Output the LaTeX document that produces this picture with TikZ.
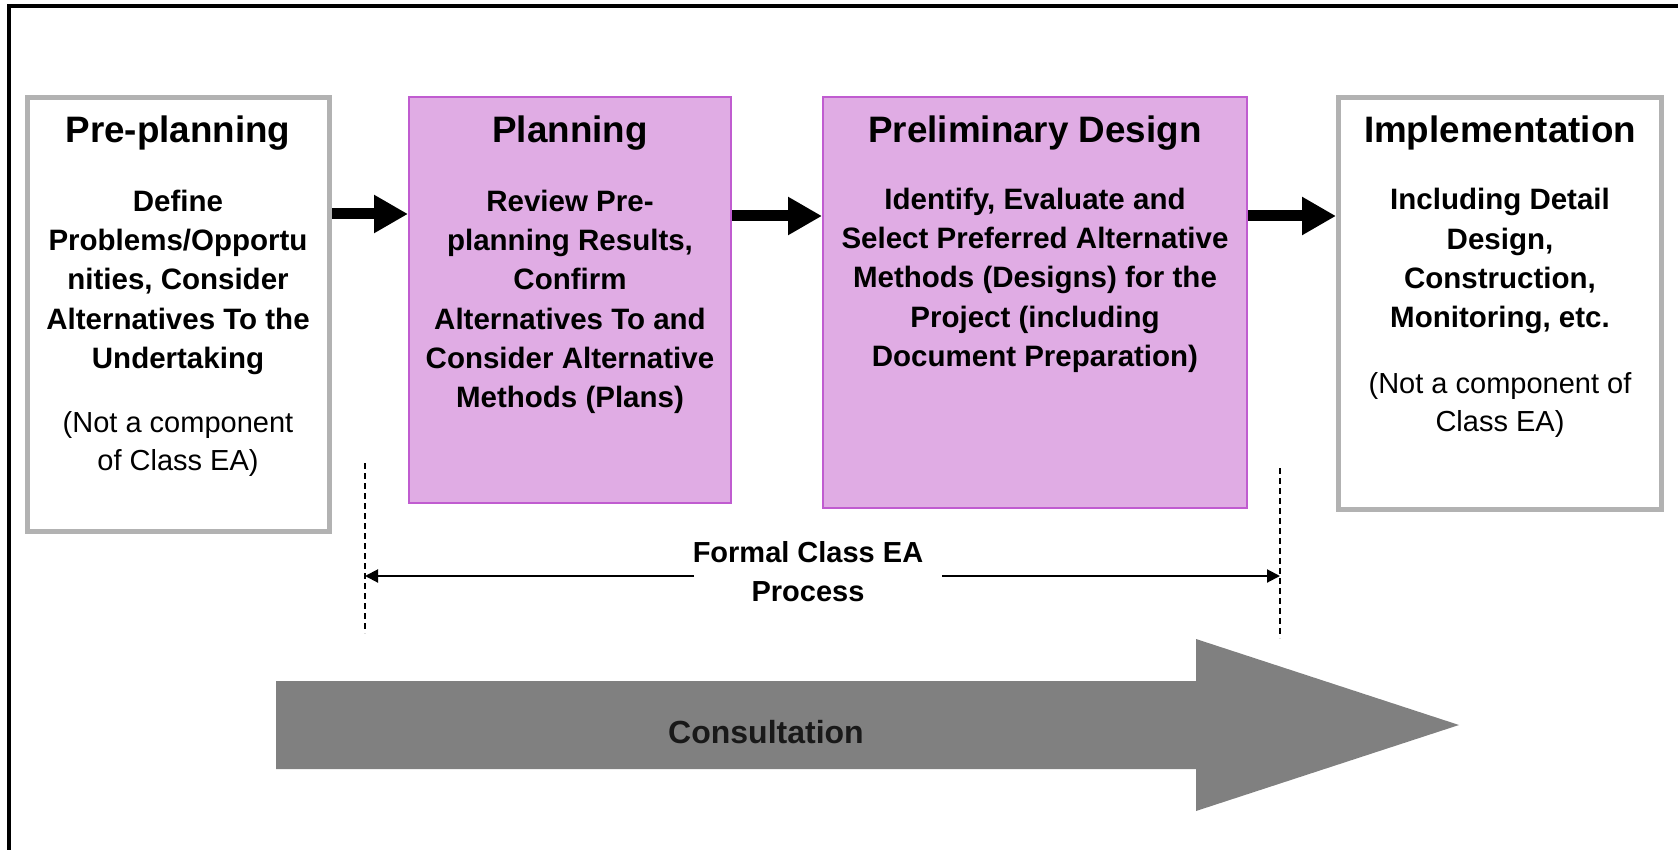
\documentclass[tikz,border=0pt]{standalone}
\usepackage{fontspec}
\setmainfont{Liberation Sans}
\usepackage{tikz}
\usetikzlibrary{arrows.meta}
\definecolor{boxgrey}{RGB}{178,178,178}
\definecolor{boxfill}{RGB}{224,172,228}
\definecolor{boxborder}{RGB}{192,92,208}
\definecolor{consultgrey}{RGB}{128,128,128}
\tikzset{
	stage/.style = {
		rectangle,
		inner sep=0pt,
		anchor=north west
	},
	stage_grey/.style = {
		stage,
		draw=boxgrey,
		fill=white,
		line width=5pt
	},
	stage_pink/.style = {
		stage,
		draw=boxborder,
		fill=boxfill,
		line width=2pt
	},
	stage_title/.style = {
		align=center,
		inner sep=0pt,
		anchor=base,
		font=\fontsize{36.8}{44}\selectfont\bfseries
	},
	stage_text/.style = {
		stage_title,
		font=\fontsize{29.5}{39.2}\selectfont\bfseries
	},
	stage_note/.style = {
		stage_title,
		font=\fontsize{29}{38.5}\selectfont
	},
	step_arrow/.style = {
		-{Triangle[length=34pt,width=36pt]},
		line width=11pt
	},
	span_arrow/.style = {
		-{Triangle[length=13pt,width=13pt]},
		line width=2pt
	},
	span_dash/.style = {
		line width=1.3pt,
		dash pattern=on 6pt off 4pt
	},
}

\begin{document}
\begin{tikzpicture}[x=1pt,y=-1pt]
\useasboundingbox (0,0) rectangle (1678,850);
\draw[line width=4pt] (8.7,860) -- (8.7,6) -- (1690,6);

\node [stage_grey, minimum width=302pt, minimum height=434pt] (pre) at (25,95) {};
\node [stage_pink, minimum width=322pt, minimum height=406pt] (plan) at (408,96) {};
\node [stage_pink, minimum width=424pt, minimum height=411pt] (prelim) at (822,96) {};
\node [stage_grey, minimum width=323pt, minimum height=412pt] (impl) at (1336,95) {};

\node [stage_title] (pre_title) at (178,143) {Pre-planning};
\node [stage_text] (pre_text) at (178,368.2) {Define\\Problems/Opportu\\nities, Consider\\Alternatives To the\\Undertaking};
\node [stage_note] (pre_note) at (178,470.5) {(Not a component\\of Class EA)};

\node [stage_title] (plan_title) at (570,143) {Planning};
\node [stage_text] (plan_text) at (570,407.4) {Review Pre-\\planning Results,\\Confirm\\Alternatives To and\\Consider Alternative\\Methods (Plans)};

\node [stage_title] (prelim_title) at (1035,143) {Preliminary Design};
\node [stage_text] (prelim_text) at (1035,366.3) {Identify, Evaluate and\\Select Preferred Alternative\\Methods (Designs) for the\\Project (including\\Document Preparation)};

\node [stage_title] (impl_title) at (1500,143) {Implementation};
\node [stage_text] (impl_text) at (1500,327.6) {Including Detail\\Design,\\Construction,\\Monitoring, etc.};
\node [stage_note] (impl_note) at (1500,431.5) {(Not a component of\\Class EA)};

\draw[step_arrow] (pre.east |- 0,214) -- (plan.west |- 0,214);
\draw[step_arrow] (plan.east |- 0,216) -- (prelim.west |- 0,216);
\draw[step_arrow] (prelim.east |- 0,216) -- (impl.west |- 0,216);

\coordinate (dash_l_top) at (365,463);
\coordinate (dash_l_bot) at (365,633);
\coordinate (dash_r_top) at (1280,468);
\coordinate (dash_r_bot) at (1280,638);
\draw[span_dash] (dash_l_top) -- (dash_l_bot);
\draw[span_dash] (dash_r_top) -- (dash_r_bot);

\node [stage_text, font=\fontsize{29}{39}\selectfont\bfseries] (formal) at (808,601.7) {Formal Class EA\\Process};
\coordinate (gap_l) at (694,576);
\coordinate (gap_r) at (942,576);
\draw[span_arrow] (gap_l) -- (dash_l_top |- gap_l);
\draw[span_arrow] (gap_r) -- (dash_r_top |- gap_r);

\fill[consultgrey] (276,681) -- (1196,681) -- (1196,639) -- (1459,725) -- (1196,811) -- (1196,769) -- (276,769) -- cycle;
\node [stage_title, font=\fontsize{32}{40}\selectfont\bfseries, text=black!90] (consult) at (766,743.3) {Consultation};
\end{tikzpicture}
\end{document}
